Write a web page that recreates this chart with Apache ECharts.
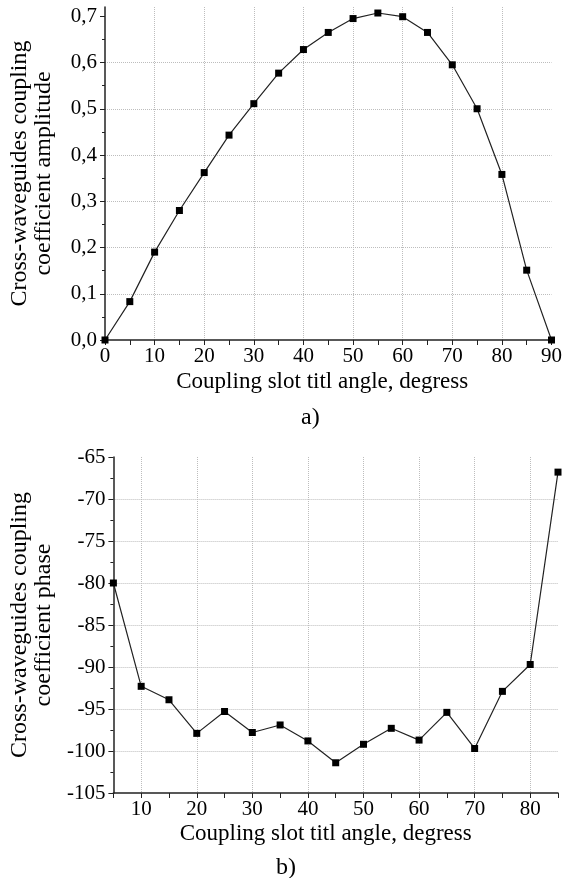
<!DOCTYPE html>
<html>
<head>
<meta charset="utf-8">
<script src="https://cdn.jsdelivr.net/npm/echarts@6/dist/echarts.min.js"></script>
<style>
  html, body { margin: 0; padding: 0; background: #fff; }
  #chart { width: 565px; height: 878px; }
</style>
</head>
<body>
<div id="chart"></div>
<script>
// a) amplitude vs tilt angle
const angleA = [0, 5, 10, 15, 20, 25, 30, 35, 40, 45, 50, 55, 60, 65, 70, 75, 80, 85, 90]
const amplitudeA = [0, 0.083, 0.19, 0.28, 0.362, 0.443, 0.511, 0.577, 0.628, 0.665, 0.695, 0.707, 0.699, 0.665, 0.595, 0.5, 0.358, 0.151, 0]
const ampTicks = [0, 0.1, 0.2, 0.3, 0.4, 0.5, 0.6, 0.7]

// b) phase vs tilt angle
const angleB = [5, 10, 15, 20, 25, 30, 35, 40, 45, 50, 55, 60, 65, 70, 75, 80, 85]
const phaseB = [-80, -92.3, -93.9, -97.9, -95.3, -97.8, -96.9, -98.8, -101.4, -99.2, -97.3, -98.7, -95.4, -99.7, -92.9, -89.7, -66.8]
const angleTicksB = [10, 20, 30, 40, 50, 60, 70, 80]

const xTitle = 'Coupling slot titl angle, degress'
const font = 'Liberation Serif'

const chart = echarts.init(document.getElementById('chart'))

// common styles
const lineAxis = { show: true, lineStyle: { color: '#222', width: 1.5 } }
const labelStyle = { color: '#000', fontFamily: font, fontSize: 21 }
const gridLine = { show: true, lineStyle: { color: '#bdbdbd', type: 'dotted', width: 1 } }
const nameStyle = { color: '#000', fontFamily: font, fontSize: 24, lineHeight: 24 }
const xNameStyle = (shift) => ({ color: '#000', fontFamily: font, fontSize: 23, padding: [0, shift, 0, 0] })
const comma = v => v.toFixed(1).replace('.', ',')

const option = {
  animation: false,
  backgroundColor: '#fff',
  title: [
    { text: 'a)', left: 296, top: 401, textStyle: { color: '#000', fontFamily: font, fontSize: 24, fontWeight: 'normal' } },
    { text: 'b)', left: 271, top: 851, textStyle: { color: '#000', fontFamily: font, fontSize: 24, fontWeight: 'normal' } }
  ],
  grid: [
    { left: 102, top: 7, width: 450, height: 333 },
    { left: 103, top: 457, width: 455, height: 336 }
  ],
  xAxis: [
    {
      gridIndex: 0, type: 'value', min: 0, max: 90, interval: 10,
      axisLine: lineAxis,
      axisTick: { show: true, length: 5, lineStyle: { color: '#222' } },
      minorTick: { show: true, splitNumber: 2, length: 5, lineStyle: { color: '#222' } },
      axisLabel: Object.assign({ margin: 6 }, labelStyle),
      splitLine: Object.assign({ showMinLine: false, showMaxLine: false }, gridLine),
      name: xTitle, nameLocation: 'middle', nameGap: 30, nameTextStyle: xNameStyle(12)
    },
    {
      gridIndex: 1, type: 'value', min: 5, max: 85, interval: 5,
      axisLine: lineAxis,
      axisTick: { show: true, length: 5, lineStyle: { color: '#222' } },
      axisLabel: Object.assign({ margin: 6, customValues: angleTicksB }, labelStyle),
      splitLine: { show: false },
      name: xTitle, nameLocation: 'middle', nameGap: 29, nameTextStyle: xNameStyle(20)
    },
    {
      // grid lines every 10 only
      gridIndex: 1, type: 'value', min: 5, max: 85, interval: 5, position: 'bottom',
      axisLine: { show: false },
      axisTick: { show: false, customValues: angleTicksB },
      axisLabel: { show: false },
      splitLine: gridLine
    }
  ],
  yAxis: [
    {
      gridIndex: 0, type: 'value', min: 0, max: 0.72, interval: 0.1,
      axisLine: lineAxis,
      axisTick: { show: true, length: 5, customValues: ampTicks, lineStyle: { color: '#222' } },
      minorTick: { show: true, splitNumber: 2, length: 3, lineStyle: { color: '#222' } },
      axisLabel: Object.assign({ margin: 8, customValues: ampTicks, formatter: comma }, labelStyle),
      splitLine: Object.assign({ showMinLine: false, showMaxLine: false }, gridLine),
      name: 'Cross-waveguides coupling\ncoefficient amplitude',
      nameLocation: 'middle', nameRotate: 90, nameGap: 49, nameTextStyle: nameStyle
    },
    {
      gridIndex: 1, type: 'value', min: -105, max: -65, interval: 5,
      axisLine: lineAxis,
      axisTick: { show: true, length: 5, lineStyle: { color: '#222' } },
      minorTick: { show: true, splitNumber: 2, length: 3, lineStyle: { color: '#222' } },
      axisLabel: Object.assign({ margin: 8 }, labelStyle),
      splitLine: Object.assign({ showMinLine: false, showMaxLine: false }, gridLine),
      name: 'Cross-waveguides coupling\ncoefficient phase',
      nameLocation: 'middle', nameRotate: 90, nameGap: 49, nameTextStyle: nameStyle
    }
  ],
  series: [
    {
      type: 'line', xAxisIndex: 0, yAxisIndex: 0,
      data: angleA.map((a, i) => [a, amplitudeA[i]]),
      symbol: 'rect', symbolSize: 7, showAllSymbol: true,
      itemStyle: { color: '#000' },
      lineStyle: { color: '#222', width: 1.2 }
    },
    {
      type: 'line', xAxisIndex: 1, yAxisIndex: 1,
      data: angleB.map((a, i) => [a, phaseB[i]]),
      symbol: 'rect', symbolSize: 7, showAllSymbol: true,
      itemStyle: { color: '#000' },
      lineStyle: { color: '#222', width: 1.2 }
    }
  ]
}

chart.setOption(option)
window.onresize = function () {
  chart.resize()
}
</script>
</body>
</html>
